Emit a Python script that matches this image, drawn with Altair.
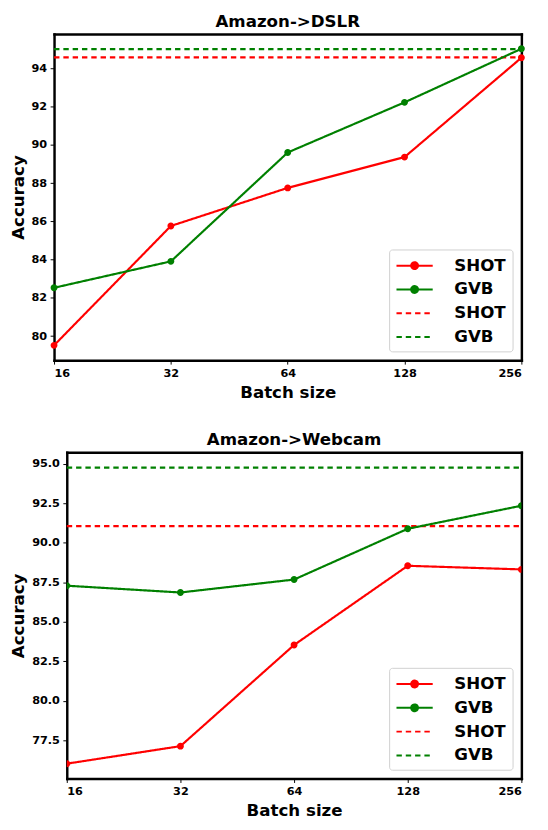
import altair as alt
import pandas as pd

batch_sizes = [16, 32, 64, 128, 256]

dslr_shot = [79.52, 85.76, 87.75, 89.36, 94.55]
dslr_gvb = [82.53, 83.91, 89.60, 92.22, 95.02]
dslr_shot_base = 94.57
dslr_gvb_base = 95.0

webcam_shot = [76.02, 77.13, 83.53, 88.54, 88.31]
webcam_gvb = [87.28, 86.85, 87.67, 90.88, 92.34]
webcam_shot_base = 91.05
webcam_gvb_base = 94.75

series_domain = ["SHOT", "GVB", "SHOT ", "GVB "]
series_colors = ["#ff0000", "#008000", "#ff0000", "#008000"]
series_dashes = [[1, 0], [1, 0], [5.5, 4], [5.5, 4]]

FONT = "DejaVu Sans"

dot_path = "M-2,0L2,0M0.38,0A0.38,0.38,0,1,1,-0.38,0A0.38,0.38,0,1,1,0.38,0"
line_path = "M-2,0L2,0"
series_shapes = [dot_path, dot_path, line_path, line_path]

FRAME = dict(domain=True, domainColor="black", domainWidth=2.5, domainCap="square")

PANEL_W = 464
PANEL_H = 333


def panel(title, shot, gvb, shot_base, gvb_base, y_domain, y_ticks, y_fmt, shift, clip):
    lines = pd.DataFrame({
        "batch": batch_sizes * 2,
        "acc": shot + gvb,
        "series": ["SHOT"] * len(shot) + ["GVB"] * len(gvb),
    })
    bases = pd.DataFrame({
        "acc": [shot_base, gvb_base],
        "series": ["SHOT ", "GVB "],
        "x1": [batch_sizes[0]] * 2,
        "x2": [batch_sizes[-1]] * 2,
    })

    color = alt.Color(
        "series:N",
        scale=alt.Scale(domain=series_domain, range=series_colors),
        title=None,
        legend=alt.Legend(
            orient="bottom-right",
            offset=9,
            padding=6,
            fillColor="white",
            strokeColor="#d0d0d0",
            cornerRadius=3,
            labelFont=FONT,
            labelFontSize=17,
            labelFontWeight="bold",
            labelColor="black",
            labelOffset=30,
            symbolOffset=9.5,
            symbolSize=342,
            symbolStrokeWidth=2,
            rowPadding=5.3,
        ),
    )
    dash = alt.StrokeDash(
        "series:N",
        scale=alt.Scale(domain=series_domain, range=series_dashes),
        title=None,
    )
    shape = alt.Shape(
        "series:N",
        scale=alt.Scale(domain=series_domain, range=series_shapes),
        title=None,
    )
    xs = alt.Scale(type="log", base=2, domain=[16, 256], nice=False, range=[-shift, PANEL_W])
    ys = alt.Scale(domain=y_domain, zero=False, nice=False)

    x_main = alt.X("batch:Q", scale=xs,
                   axis=alt.Axis(values=batch_sizes, format="d", title="Batch size", orient="bottom", **FRAME))
    y_main = alt.Y("acc:Q", scale=ys,
                   axis=alt.Axis(values=y_ticks, format=y_fmt, title="Accuracy", orient="left", offset=shift, **FRAME))
    x_plain = alt.X("batch:Q", scale=xs, axis=None)
    y_plain = alt.Y("acc:Q", scale=ys, axis=None)

    base = alt.Chart(lines)
    line_layer = base.mark_line(strokeWidth=2.2, clip=clip).encode(x=x_main, y=y_main, color=color, strokeDash=dash)
    point_layer = base.mark_point(filled=True, size=342, opacity=1, clip=clip).encode(
        x=x_plain, y=y_plain, color=color, shape=shape
    )
    rule_layer = alt.Chart(bases).mark_rule(strokeWidth=2.2).encode(
        x=alt.X("x1:Q", scale=xs, axis=alt.Axis(orient="top", labels=False, ticks=False, title=None, **FRAME)),
        x2="x2:Q",
        y=alt.Y("acc:Q", scale=ys, axis=alt.Axis(orient="right", labels=False, ticks=False, title=None, **FRAME)),
        color=color,
        strokeDash=dash,
    )
    return alt.layer(rule_layer, line_layer, point_layer).properties(
        width=PANEL_W,
        height=PANEL_H,
        view=alt.ViewBackground(stroke="transparent"),
        title=alt.TitleParams(title, font=FONT, fontSize=17, fontWeight="bold", color="black",
                              offset=3, frame="group", anchor="middle", dx=-shift / 2),
    )


top = panel("Amazon->DSLR", dslr_shot, dslr_gvb, dslr_shot_base, dslr_gvb_base,
            [78.745, 95.795], [80, 82, 84, 86, 88, 90, 92, 94], "d", 13, False)
bottom = panel("Amazon->Webcam", webcam_shot, webcam_gvb, webcam_shot_base, webcam_gvb_base,
               [75.08, 95.72], [77.5, 80.0, 82.5, 85.0, 87.5, 90.0, 92.5, 95.0], ".1f", 0, True)

chart = alt.vconcat(top, bottom, spacing=30).resolve_scale(
    color="independent", strokeDash="independent", shape="independent",
    x="independent", y="independent",
).properties(
    padding={"left": 0, "top": -4, "right": 0, "bottom": 0}
).configure_view(
    stroke="transparent"
).configure_axis(
    labelFont=FONT, labelFontSize=11.5, labelFontWeight="bold", labelColor="black",
    titleFont=FONT, titleFontSize=17, titleFontWeight="bold", titleColor="black",
    tickColor="black", tickSize=4, tickWidth=1, domain=False, grid=False, labelPadding=3.5,
).configure_axisX(titlePadding=6).configure_axisY(titlePadding=4)

chart.save("out.html", embed_options={"renderer": "svg", "actions": False})
